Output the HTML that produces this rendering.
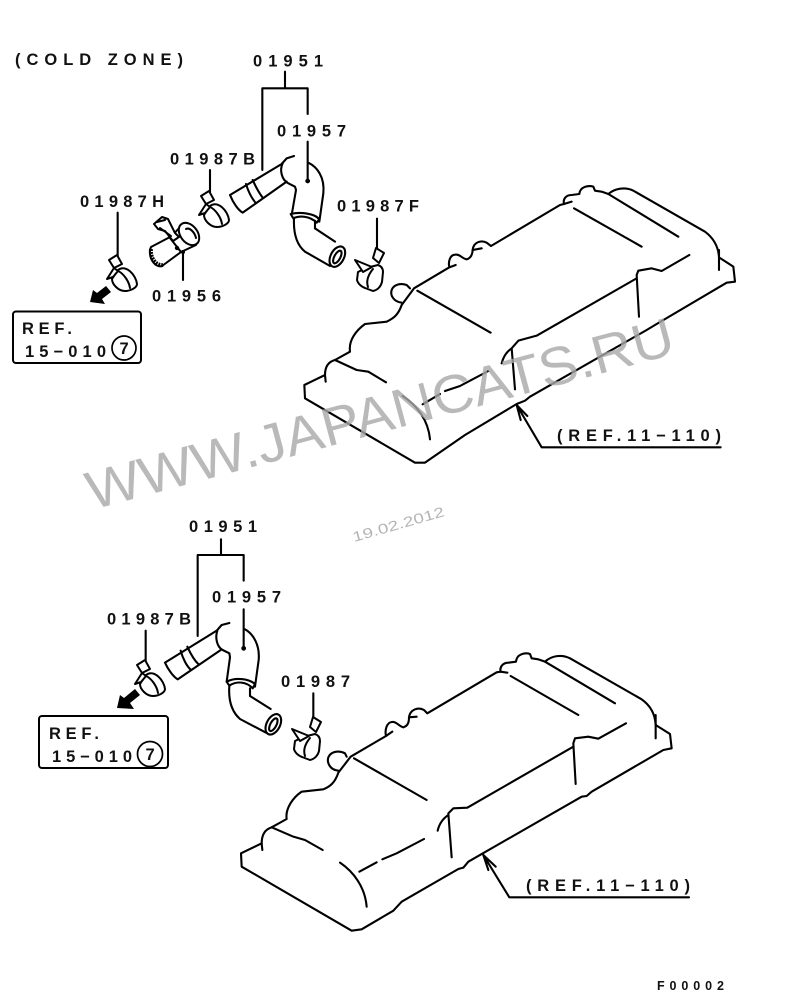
<!DOCTYPE html>
<html><head><meta charset="utf-8"><style>
html,body{margin:0;padding:0;background:#fff}
svg{display:block}
.t text{font-family:"Liberation Sans",sans-serif;font-size:16.5px;font-weight:bold;fill:#111;}
.l{fill:none;stroke:#000;stroke-width:6.3;stroke-linejoin:round;stroke-linecap:round}
.w{fill:#fff;stroke:#000;stroke-width:6.3;stroke-linejoin:round;stroke-linecap:round}
.r{fill:none;stroke:#000;stroke-width:2;stroke-linejoin:round;stroke-linecap:round}
.rw{fill:#fff;stroke:#000;stroke-width:2;stroke-linejoin:round;stroke-linecap:round}
</style></head><body>
<svg width="800" height="1008" viewBox="0 0 800 1008" xmlns="http://www.w3.org/2000/svg">
<defs>
<g id="cA">
<path class="rw" d="M112,279 L118,270 C126,264 136,275 137,284 C137,288 130,291 125,291 C118,291 112,284 112,279 Z"/>
<path class="r" d="M118,271 C123,273 129,281 130,288"/>
<path class="rw" d="M109,260 L117,255 L122,264 L114,268 Z"/>
<path class="rw" d="M107,279 L114,268 L118,271 L113,277 Z"/>
</g>
<g id="cF">
<path class="rw" d="M358,272 L357,280 C358,284 362,287 365,288 L373,291 C378,290 381,286 382,282 L383,272 C383,268 381,266 378,265 L366,268 Z"/>
<path class="r" d="M373,269 C368,275 366,281 368,287"/>
<path class="rw" d="M373,258 L376,248 L384,253 L379,263 Z"/>
<path class="rw" d="M355,260 L372,267 L363,272 Z"/>
</g>
</defs>

<!-- top engine -->
<g transform="translate(290 170) scale(.33333)" class="l">
<path d="M372,355 L478,292 C474,275 480,255 495,254 C510,252 515,265 530,268 C540,265 547,258 548,240 C550,215 575,210 590,218 L603,228 L810,105 L822,102 C818,85 830,75 845,75 L868,72 C870,50 895,45 910,50 L915,62 L935,65 L955,72 C975,55 1005,50 1030,62 L1245,185 C1265,200 1285,225 1287,262 L1330,290 L1335,335 L1310,338 L1100,462 L1070,480 L720,680 L705,692 L680,702 L525,795 L405,878 L375,878 L45,685 L43,645 L105,615 C105,590 115,575 135,570 L180,545 C175,510 200,480 225,462 L290,455 C310,445 325,435 335,405 Z"/>
<path d="M335,398 C310,395 300,375 305,360 C310,345 330,338 350,345 L360,355"/>
<path d="M382,362 L602,488 M852,115 L1055,230 M955,72 L1165,200 M1198,255 L1115,303 L1085,295 L1045,302 L1040,315 L1047,440 M1040,325 L740,497 L685,512 L665,535 L675,658 M665,535 C650,545 640,560 635,580 M595,603 L510,648 L465,663 M450,672 L398,703 M135,570 L200,600 L235,605 L288,637 M105,615 L107,635 M338,678 C380,705 415,750 420,808 M1287,240 V300 M478,292 L497,285 M548,240 L575,235 M822,102 L845,95"/>
<path d="M680,705 L755,832 H1292 M680,705 L712,738 M680,705 L692,750"/>
</g>

<!-- bottom engine -->
<g transform="translate(230 640) scale(.33333)" class="l">
<path d="M362,350 L468,288 C464,270 470,248 485,246 C500,244 505,258 520,262 C532,258 537,250 537,232 C540,208 565,200 582,210 L592,220 L800,97 L812,95 C808,80 820,68 835,68 L858,65 C860,42 885,37 900,42 L905,55 L925,58 L945,65 C965,47 995,42 1020,55 L1235,178 C1255,192 1275,215 1277,255 L1320,282 L1325,325 L1300,330 L1085,455 L1070,468 L1055,470 L715,665 L700,683 L685,687 L515,785 L490,812 L395,868 L365,872 L35,680 L33,640 L95,610 C95,585 105,568 125,562 L170,537 C165,505 190,472 215,455 L280,448 C300,440 315,428 325,398 Z"/>
<path d="M325,392 C300,390 290,368 295,352 C302,335 325,330 345,340 L350,350"/>
<path d="M372,355 L590,480 M842,108 L1045,225 M945,65 L1155,190 M1188,250 L1105,296 L1075,290 L1035,295 L1030,310 L1037,432 M1030,320 L712,503 L670,505 L655,520 L665,652 M655,525 C640,535 628,550 623,572 M582,597 L500,640 L457,658 M440,667 L388,695 M125,562 L190,590 L225,600 L278,630 M95,610 L97,630 M330,668 C370,695 405,740 410,800 M1277,225 V295 M468,288 L487,275 M537,232 L560,230 M812,95 L832,98"/>
<path d="M760,645 L838,772 H1377 M760,645 L797,680 M760,645 L775,690"/>
</g>

<!-- top hose group; zoom 1 coordinates -->
<g transform="translate(0 30) scale(.33333)" class="l">
<path d="M855,125 V173 M787,420 V175 H923 V252 M923,335 V453"/>
<circle cx="923" cy="453" r="4" fill="#000"/>
<path d="M690,495 L845,402 L860,385 L882,378 M690,495 C700,520 715,540 728,548 L860,455 M738,462 C745,485 755,505 768,520 M758,450 C768,472 778,490 788,503"/>
<path d="M848,400 C838,420 845,450 865,460 L885,470 L888,480 L875,555 M925,398 C950,410 975,440 970,490 L958,575"/>
<path class="w" d="M872,552 C900,545 945,550 958,568 L950,578 C930,558 900,556 880,565 Z"/>
<path d="M882,565 C880,610 890,645 915,665 L990,708 M945,572 V595 L1005,635"/>
<ellipse class="w" cx="1012" cy="680" rx="20" ry="33" transform="rotate(28 1012 680)"/>
<ellipse cx="1012" cy="681" rx="9" ry="21" transform="rotate(28 1012 681)"/>
<path d="M630,420 V490 M353,548 V680 M549,665 V750 M1131,566 V655"/>
</g>

<!-- bottom hose group; zoom 3 coordinates -->
<g transform="translate(30 510) scale(.33333)" class="l">
<path d="M573,88 V133 M503,378 V135 H641 V212 M641,298 V415"/>
<circle cx="641" cy="415" r="4" fill="#000"/>
<path d="M405,458 L560,362 L575,345 L598,339 M405,458 C415,480 430,500 443,508 L575,418 M452,422 C458,445 470,468 483,480 M472,410 C482,432 492,450 505,462"/>
<path d="M562,362 C555,382 560,410 578,420 L598,430 L600,442 L590,515 M645,358 C670,372 690,405 686,450 L675,530"/>
<path class="w" d="M590,515 C615,502 655,505 675,522 L668,535 C650,515 620,512 598,527 Z"/>
<path d="M598,528 C595,570 605,605 630,627 L708,668 M660,535 V558 L722,597"/>
<ellipse class="w" cx="730" cy="643" rx="20" ry="33" transform="rotate(28 730 643)"/>
<ellipse cx="730" cy="644" rx="9" ry="21" transform="rotate(28 730 644)"/>
<path d="M347,362 V455 M850,550 V620"/>
</g>

<!-- clamps -->
<use href="#cA"/>
<use href="#cA" transform="translate(92 -64)"/>
<use href="#cA" transform="translate(28 405)"/>
<use href="#cF"/>
<use href="#cF" transform="translate(-63 469)"/>

<!-- sensor -->
<path class="rw" d="M151,247 L170,237 L181,252 L162,266 C156,268 149,260 150,250 Z"/>
<path d="M151,249 C150,258 156,266 163,265" fill="none" stroke="#000" stroke-width="4" stroke-dasharray="2 1"/>
<path class="rw" d="M170,238 L181,226 L196,245 L181,252 Z"/>
<ellipse class="rw" cx="189" cy="234" rx="8.500" ry="12.500" transform="rotate(-38 189 234)"/>
<path class="r" d="M186,229 C190,227 195,233 196,238"/>
<path class="rw" d="M154,224 L162,217 L168,219 L175,233 L179,237 L173,241 L165,231 L158,229 Z"/>
<path class="r" d="M157,222 L165,220 M160,228 L171,236"/>
<circle cx="177" cy="248" r="2.200"/>
<circle cx="183" cy="252" r="2"/>

<!-- black arrows -->
<polygon points="90,302 93,290 97,293 106,286 111,292 102,299 105,304" fill="#000"/>
<polygon points="117,708 120,695 124,698 135,689 140,695 130,703 134,709" fill="#000"/>

<!-- boxes -->
<rect x="13" y="311.500" width="128" height="51.500" rx="3" fill="none" stroke="#000" stroke-width="2"/>
<circle cx="124" cy="348" r="12" fill="none" stroke="#000" stroke-width="1.700"/>
<rect x="39" y="716" width="129" height="52" rx="3" fill="none" stroke="#000" stroke-width="2"/>
<circle cx="150" cy="754" r="12.500" fill="none" stroke="#000" stroke-width="1.700"/>

<!-- labels -->
<g class="t">
<text x="15" y="65" textLength="168" lengthAdjust="spacing">(COLD ZONE)</text>
<text x="253" y="66.500" textLength="70" lengthAdjust="spacing">01951</text>
<text x="277" y="136.500" textLength="69" lengthAdjust="spacing">01957</text>
<text x="170" y="164.500" textLength="85" lengthAdjust="spacing">01987B</text>
<text x="80" y="207" textLength="84" lengthAdjust="spacing">01987H</text>
<text x="337" y="211.500" textLength="82" lengthAdjust="spacing">01987F</text>
<text x="152" y="301.500" textLength="69" lengthAdjust="spacing">01956</text>
<text x="22" y="334" textLength="50" lengthAdjust="spacing">REF.</text>
<text x="25" y="357" textLength="81" lengthAdjust="spacing">15−010</text>
<text x="119.500" y="354">7</text>
<text x="557" y="441" textLength="164" lengthAdjust="spacing">(REF.11−110)</text>
<text x="189" y="532" textLength="68" lengthAdjust="spacing">01951</text>
<text x="212" y="602.500" textLength="69" lengthAdjust="spacing">01957</text>
<text x="107" y="624.500" textLength="84" lengthAdjust="spacing">01987B</text>
<text x="281" y="687" textLength="69" lengthAdjust="spacing">01987</text>
<text x="49" y="739" textLength="50" lengthAdjust="spacing">REF.</text>
<text x="52" y="762" textLength="80" lengthAdjust="spacing">15−010</text>
<text x="145.500" y="760">7</text>
<text x="526" y="891" textLength="164" lengthAdjust="spacing">(REF.11−110)</text>
<text x="657" y="990" textLength="67" lengthAdjust="spacing" style="font-size:12.5px">F00002</text>
</g>

<!-- watermark -->
<text transform="translate(92 510) rotate(-15)" font-family="Liberation Sans, sans-serif" font-size="54" fill="#a8a8a8" fill-opacity=".8" textLength="606" lengthAdjust="spacingAndGlyphs">WWW.JAPANCATS.RU</text>
<text transform="translate(354 542) rotate(-16)" font-family="Liberation Sans, sans-serif" font-size="14" fill="#b4b4b4" textLength="95" lengthAdjust="spacingAndGlyphs">19.02.2012</text>
</svg>
</body></html>
